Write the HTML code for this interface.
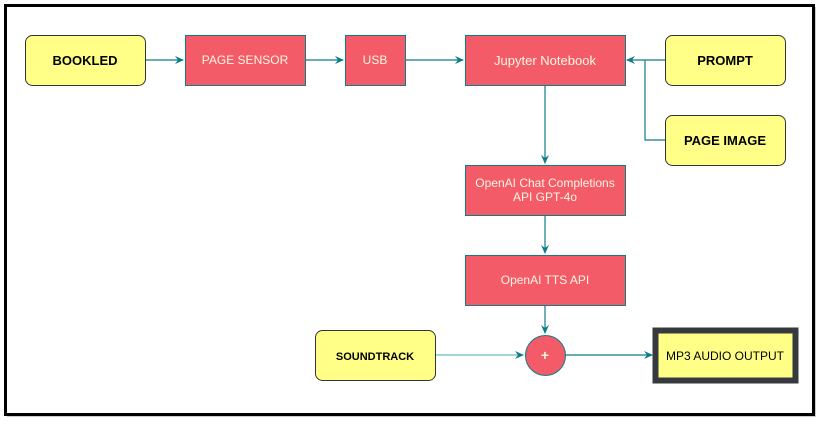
<html><body style="margin:0;background:#fff">
<svg width="823" height="424" xmlns="http://www.w3.org/2000/svg" font-family="Liberation Sans, Arial, sans-serif">
<defs><marker id="a" markerWidth="10" markerHeight="10" refX="8" refY="5" orient="auto" markerUnits="userSpaceOnUse"><path d="M0,1 L9,5 L0,9 L3,5z" fill="#0e7c86"/></marker></defs>
<rect x="7" y="7" width="809" height="410" fill="#999" opacity="0.5"/>
<rect x="5.5" y="5.5" width="808" height="409" fill="#fff" stroke="#000" stroke-width="3"/>
<g stroke="#0e7c86" stroke-width="1.2" fill="none">
<path d="M145,60H183" marker-end="url(#a)"/>
<path d="M305,60H343" marker-end="url(#a)"/>
<path d="M405,60H463" marker-end="url(#a)"/>
<path d="M665,60H627" marker-end="url(#a)"/>
<path d="M665,140H645V60"/>
<path d="M545,85V163" marker-end="url(#a)"/>
<path d="M545,215V253" marker-end="url(#a)"/>
<path d="M545,305V333" marker-end="url(#a)"/>
<path d="M435,355H523" stroke="#6bbcc2" marker-end="url(#a)"/>
<path d="M565,355H652" marker-end="url(#a)"/>
</g>
<g stroke="#333" fill="#ffff88">
<rect x="25.5" y="35.5" width="120" height="50" rx="7"/>
<rect x="665.5" y="35.5" width="120" height="50" rx="7"/>
<rect x="665.5" y="115.5" width="120" height="50" rx="7"/>
<rect x="315.5" y="330.5" width="120" height="50" rx="7"/>
</g>
<rect x="655.5" y="330.5" width="140" height="50" fill="#ffff88" stroke="#36393d" stroke-width="6"/>
<g stroke="#0e7c86" fill="#f45b69">
<rect x="185.5" y="35.5" width="120" height="50"/>
<rect x="345.5" y="35.5" width="60" height="50"/>
<rect x="465.5" y="35.5" width="160" height="50"/>
<rect x="465.5" y="165.5" width="160" height="50"/>
<rect x="465.5" y="255.5" width="160" height="50"/>
<circle cx="545.5" cy="355.5" r="20"/>
</g>
<g font-weight="bold" font-size="13" text-anchor="middle" fill="#000">
<text x="85" y="65">BOOKLED</text>
<text x="725" y="65">PROMPT</text>
<text x="725" y="145">PAGE IMAGE</text>
<text x="375" y="360" font-size="11">SOUNDTRACK</text>
</g>
<text x="725" y="360" font-size="12" text-anchor="middle">MP3 AUDIO OUTPUT</text>
<g fill="#fff7e0" text-anchor="middle" font-size="12">
<text x="245" y="64">PAGE SENSOR</text>
<text x="375" y="64">USB</text>
<text x="545" y="65" font-size="13">Jupyter Notebook</text>
<text x="545" y="187">OpenAI Chat Completions</text>
<text x="545" y="201">API GPT-4o</text>
<text x="545" y="284">OpenAI TTS API</text>
<text x="545" y="360" font-size="14" font-weight="bold">+</text>
</g>
</svg>
</body></html>
